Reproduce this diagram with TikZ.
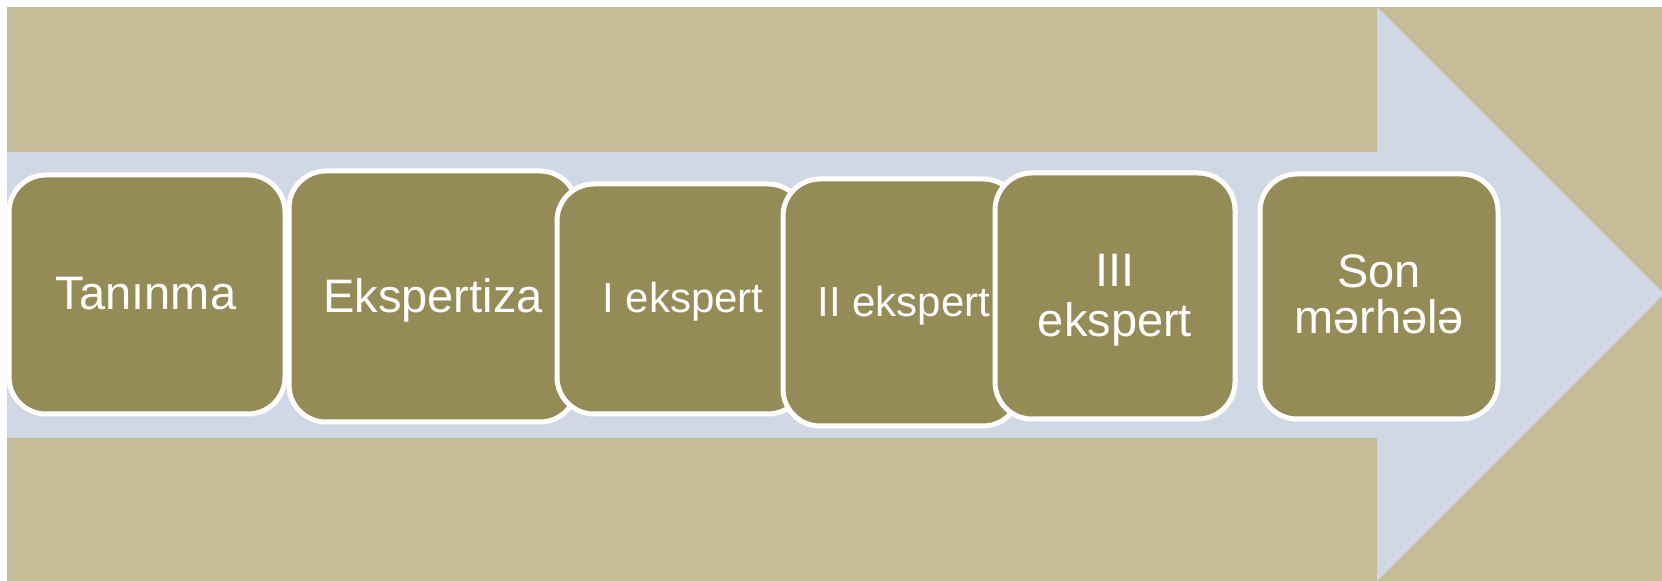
\documentclass[tikz,border=0pt]{standalone}
\usepackage{fontspec}
\setmainfont{Liberation Sans}
\definecolor{tanbg}{RGB}{197,189,152}
\definecolor{bandc}{RGB}{208,216,230}
\definecolor{olivebox}{RGB}{149,139,86}
\tikzset{
  stepbox/.style={draw=white, fill=olivebox, line width=2.5pt, rounded corners=18.5pt, inner sep=0pt},
  steptext/.style={text=white, font=\fontsize{23.5}{24}\selectfont, inner sep=0pt, align=center},
  smalltext/.style={steptext, font=\fontsize{21}{22}\selectfont}
}
\begin{document}
\begin{tikzpicture}[x=0.5pt,y=-0.5pt]
\useasboundingbox (0,0) rectangle (1662,581);
\fill[white] (0,0) rectangle (1662,581);
\begin{scope}
\clip (0,0) rectangle (1662,581);
\fill[tanbg] (7,7) rectangle (1662,581);
\fill[bandc] (7,152) -- (1377,152) -- (1377,7) -- (1664,294) -- (1377,581) -- (1377,438) -- (7,438) -- cycle;
\end{scope}
\node[stepbox, minimum width=138pt, minimum height=119.5pt] (b1) at (147,294.5) {};
\node[stepbox, minimum width=144pt, minimum height=125.5pt] (b2) at (433,296.5) {};
\node[stepbox, minimum width=124pt, minimum height=115pt] (b3) at (681,299) {};
\node[stepbox, minimum width=118.5pt, minimum height=123.5pt] (b4) at (901.5,302.5) {};
\node[stepbox, minimum width=120pt, minimum height=123pt] (b5) at (1115,296) {};
\node[stepbox, minimum width=119pt, minimum height=122.5pt] (b6) at (1379,296.5) {};
\node[steptext, anchor=base] (t1) at (146,310) {Tanınma};
\node[steptext, anchor=base] (t2) at (433,313) {Ekspertiza};
\node[smalltext, anchor=base] (t3) at (683,313) {I ekspert};
\node[smalltext, anchor=base] (t4) at (904,317) {II ekspert};
\node[steptext, anchor=base] (t5a) at (1115,287) {III};
\node[steptext, anchor=base] (t5b) at (1115,337) {ekspert};
\node[steptext, anchor=base] (t6a) at (1379,288) {Son};
\node[steptext, anchor=base] (t6b) at (1379,334) {mərhələ};
\end{tikzpicture}
\end{document}
